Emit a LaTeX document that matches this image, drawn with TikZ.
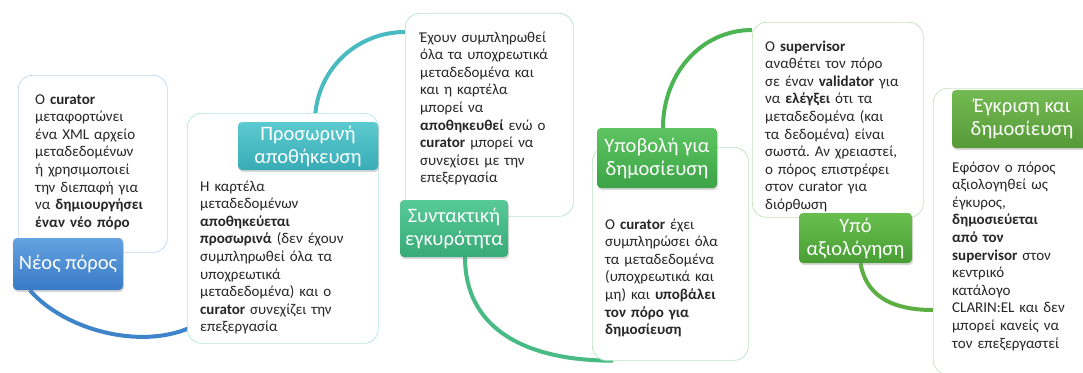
\documentclass[tikz,border=0pt]{standalone}
\usepackage{fontspec}
\setmainfont{Carlito}
\frenchspacing
\usetikzlibrary{backgrounds,shadows}
\definecolor{newtop}{RGB}{100,162,224}
\definecolor{newbot}{RGB}{56,122,198}
\definecolor{newline}{RGB}{62,132,202}
\definecolor{newcard}{RGB}{190,215,238}
\definecolor{tmptop}{RGB}{92,202,208}
\definecolor{tmpbot}{RGB}{56,172,182}
\definecolor{tmpline}{RGB}{72,186,192}
\definecolor{tmpcard}{RGB}{178,226,229}
\definecolor{syntop}{RGB}{88,202,152}
\definecolor{synbot}{RGB}{56,170,120}
\definecolor{synline}{RGB}{72,186,132}
\definecolor{syncard}{RGB}{182,226,206}
\definecolor{subtop}{RGB}{94,196,98}
\definecolor{subbot}{RGB}{60,164,70}
\definecolor{subline}{RGB}{76,180,82}
\definecolor{subcard}{RGB}{188,226,192}
\definecolor{revtop}{RGB}{104,190,78}
\definecolor{revbot}{RGB}{72,158,52}
\definecolor{revline}{RGB}{92,174,66}
\definecolor{revcard}{RGB}{196,226,186}
\definecolor{pubtop}{RGB}{116,186,82}
\definecolor{pubbot}{RGB}{86,154,56}
\definecolor{pubcard}{RGB}{202,226,192}

\begin{document}
\begin{tikzpicture}[x=1pt,y=1pt,
  card/.style={draw=#1,rounded corners=14pt,fill=white,line width=0.7pt,
    anchor=north west,inner sep=0pt},
  note/.style={anchor=base west,text width=#1,align=left,inner sep=0pt,
    font=\fontsize{15}{17.6}\selectfont,text=black!85},
  stage/.style 2 args={top color=#1,bottom color=#2,draw=none,rounded corners=4pt,
    text=white,align=center,font=\fontsize{20.5}{23}\selectfont,inner sep=0pt,
    drop shadow={shadow xshift=1pt,shadow yshift=-2pt,opacity=.3}},
  arc/.style={line width=4pt,#1}]
  \useasboundingbox (0,0) rectangle (1083,-372);
  \clip (0,0) rectangle (1083,-372);

  % cards
  \node[card=newcard,minimum width=149,minimum height=177] (c1) at (18,-75) {};
  \node[card=tmpcard,minimum width=191,minimum height=230] (c2) at (187,-113) {};
  \node[card=syncard,minimum width=168,minimum height=203] (c3) at (405,-13) {};
  \node[card=subcard,minimum width=156,minimum height=213] (c4) at (592,-147) {};
  \node[card=revcard,minimum width=171,minimum height=195] (c5) at (752,-22) {};
  \node[card=pubcard,minimum width=160,minimum height=286] (c6) at (933,-88) {};

  \node[note=135] (t1) at (35,-104) {Ο \textbf{curator}\\ μεταφορτώνει\\ ένα XML αρχείο\\
    μεταδεδομένων\\ ή χρησιμοποιεί\\ την διεπαφή για\\ να \textbf{δημιουργήσει}\\
    \textbf{έναν νέο πόρο}};
  \node[note=175] (t2) at (200,-191) {Η καρτέλα\\ μεταδεδομένων\\ \textbf{αποθηκεύεται}\\
    \textbf{προσωρινά} (δεν έχουν\\ συμπληρωθεί όλα τα\\ υποχρεωτικά\\
    μεταδεδομένα) και ο\\ \textbf{curator} συνεχίζει την\\ επεξεργασία};
  \node[note=155] (t3) at (420,-42) {Έχουν συμπληρωθεί\\ όλα τα υποχρεωτικά\\
    μεταδεδομένα και\\ και η καρτέλα\\ μπορεί να\\ \textbf{αποθηκευθεί} ενώ ο\\
    \textbf{curator} μπορεί να\\ συνεχίσει με την\\ επεξεργασία};
  \node[note=140] (t4) at (605,-229) {Ο \textbf{curator} έχει\\ συμπληρώσει όλα\\
    τα μεταδεδομένα\\ (υποχρεωτικά και\\ μη) και \textbf{υποβάλει}\\
    \textbf{τον πόρο για}\\ \textbf{δημοσίευση}};
  \node[note=158] (t5) at (765,-51) {Ο \textbf{supervisor}\\ αναθέτει τον πόρο\\
    σε έναν \textbf{validator} για\\ να \textbf{ελέγξει} ότι τα\\ μεταδεδομένα (και\\
    τα δεδομένα) είναι\\ σωστά. Αν χρειαστεί,\\ ο πόρος επιστρέφει\\
    στον curator για\\ διόρθωση};
  \node[note=135] (t6) at (952,-172) {Εφόσον ο πόρος\\ αξιολογηθεί ως\\ έγκυρος,\\
    \textbf{δημοσιεύεται}\\ \textbf{από τον}\\ \textbf{supervisor} στον\\ κεντρικό\\
    κατάλογο\\ CLARIN:EL και δεν\\ μπορεί κανείς να\\ τον επεξεργαστεί};

  % stages
  \node[stage={newtop}{newbot},minimum width=110,minimum height=52] (newt) at (68,-264) {Νέος πόρος};
  \node[stage={tmptop}{tmpbot},minimum width=140,minimum height=48] (tmpt) at (308,-146) {Προσωρινή\\ αποθήκευση};
  \node[stage={syntop}{synbot},minimum width=108,minimum height=57] (synt) at (454,-228.5) {Συντακτική\\ εγκυρότητα};
  \node[stage={subtop}{subbot},minimum width=120,minimum height=60] (subt) at (657,-158) {Υποβολή για\\ δημοσίευση};
  \node[stage={revtop}{revbot},minimum width=113,minimum height=50] (revt) at (855.5,-238) {Υπό\\ αξιολόγηση};
  \node[stage={pubtop}{pubbot},minimum width=140,minimum height=58] (pubt) at (1022,-119) {Έγκριση και\\ δημοσίευση};

  \begin{scope}[on background layer]
    \draw[arc=newline] ([xshift=17pt]newt.south west) .. controls +(35,-40) and +(-50,-22) .. ([shift={(3pt,16pt)}]c2.south west);
    \draw[arc=tmpline] ([xshift=7pt]tmpt.north) .. controls +(0,50) and +(-50,0) .. ([yshift=-19pt]c3.north west);
    \draw[arc=synline] ([xshift=11pt]synt.south) .. controls +(0,-70) and +(-90,0) .. ([xshift=21pt]c4.south west);
    \draw[arc=subline] ([xshift=6pt]subt.north) .. controls +(0,55) and +(-50,0) .. ([yshift=-8pt]c5.north west);
    \draw[arc=revline] ([xshift=5pt]revt.south) .. controls +(5,-30) and +(-45,0) .. ([yshift=-222pt]c6.north west);
  \end{scope}
\end{tikzpicture}
\end{document}
